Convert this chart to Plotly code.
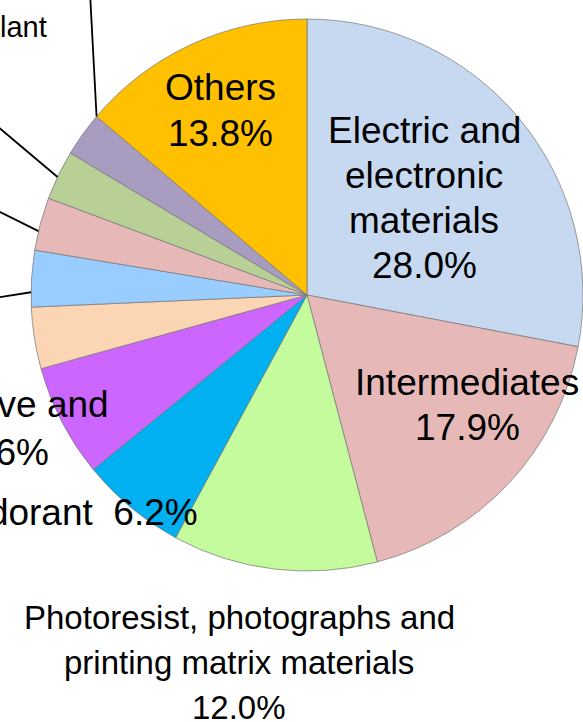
import math
import plotly.graph_objects as go

# Share of demand by application (%), clockwise from 12 o'clock
categories = [
    "Electric and electronic materials",
    "Intermediates",
    "Photoresist, photographs and printing matrix materials",
    "Deodorant",
    "Additive and",
    "Cleaning agent",
    "Foaming agent",
    "Refrigerant",
    "Aerosol propellant",
    "Fire extinguishant",
    "Others",
]
shares = [28.0, 17.9, 12.0, 6.2, 6.6, 3.6, 3.3, 3.1, 2.9, 2.6, 13.8]

# Display names with their line breaks
display_names = [
    "Electric and<br>electronic<br>materials",
    "Intermediates",
    "Photoresist, photographs and<br>printing matrix materials",
    "Deodorant  ",
    "Additive and",
    "Cleaning agent",
    "Foaming agent",
    "Refrigerant",
    "Aerosol propellant",
    "Fire extinguishant",
    "Others",
]

colors = [
    "#C6D9F1", "#E6B9B8", "#C4FB9C", "#00B0F0", "#CC66FF", "#FCD5B5",
    "#99CCFF", "#E6B9B8", "#B8CF96", "#A99CC1", "#FFC000",
]

W, H = 583, 722
CX, CY, R = 307, 295, 276
FONT = "Liberation Sans, Arial, sans-serif"

fig = go.Figure(
    go.Pie(
        labels=categories,
        values=shares,
        marker=dict(colors=colors, line=dict(color="rgba(120,120,120,0.9)", width=0.8)),
        sort=False,
        direction="clockwise",
        rotation=0,
        textinfo="none",
        hoverinfo="label+percent",
        domain=dict(
            x=[(CX - R) / W, (CX + R) / W],
            y=[1 - (CY + R) / H, 1 - (CY - R) / H],
        ),
        showlegend=False,
    )
)


def label(i, sep="<br>"):
    return f"{display_names[i]}{sep}{shares[i]:.1f}%"


def add_text(text, px, py, size, xanchor="center"):
    fig.add_annotation(
        text=text, x=px / W, y=1 - py / H, xref="paper", yref="paper",
        xanchor=xanchor, yanchor="middle", showarrow=False, align="center",
        font=dict(family=FONT, size=size, color="black"),
    )


def add_lines(text, px, first_py, spacing, size):
    # one annotation per line so the line pitch can be set independently
    for k, line in enumerate(text.split("<br>")):
        add_text(line, px, first_py + k * spacing, size)


add_lines(label(0), 424, 131, 44.7, 37)
add_lines(label(1), 467, 382, 45.0, 37)
add_lines(label(2), 239, 617, 45.0, 33)
add_lines(label(10), 220, 88, 45.0, 37)
add_text(label(3, sep=""), 200, 512, 37, xanchor="right")
add_text(label(4), 111, 428, 37, xanchor="right")
add_text(label(8), 49, 46, 29, xanchor="right")

# Leader lines for the narrow slices on the left
total = sum(shares)
starts = []
acc = 0.0
for v in shares:
    starts.append(acc / total * 360.0)
    acc += v

# (slice index, position inside slice, leader vector in px)
leaders = [
    (6, 0.26, (-71, 11)),
    (7, 0.36, (-74, -37)),
    (8, 0.46, (-95, -80)),
    (9, 1.00, (-7, -132)),
]
for idx, frac, (dx, dy) in leaders:
    a0 = starts[idx]
    a1 = a0 + shares[idx] / total * 360.0
    th = math.radians(a0 + frac * (a1 - a0))
    x0 = CX + R * math.sin(th)
    y0 = CY - R * math.cos(th)
    fig.add_shape(
        type="line", xref="paper", yref="paper",
        x0=x0 / W, y0=1 - y0 / H, x1=(x0 + dx) / W, y1=1 - (y0 + dy) / H,
        line=dict(color="black", width=1.8),
    )

fig.update_layout(
    width=W, height=H,
    margin=dict(l=0, r=0, t=0, b=0),
    paper_bgcolor="white", plot_bgcolor="white",
    showlegend=False,
)

fig.write_html("out.html")
